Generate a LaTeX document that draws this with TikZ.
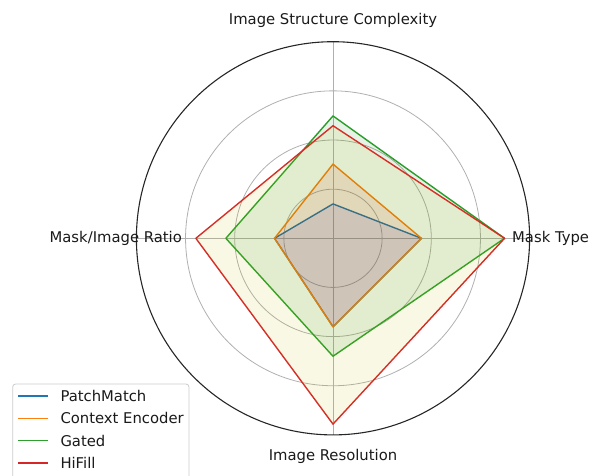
\documentclass[tikz,border=0pt]{standalone}
\usepackage{fontspec}
\setmainfont{DejaVu Sans}
\usetikzlibrary{calc}
\definecolor{tabblue}{HTML}{1F77B4}
\definecolor{taborange}{HTML}{FF7F0E}
\definecolor{tabgreen}{HTML}{2CA02C}
\definecolor{tabred}{HTML}{D62728}
\definecolor{mplgrid}{HTML}{B0B0B0}
\definecolor{fillb}{rgb}{0,0,1}
\definecolor{fillr}{rgb}{1,0,0}
\definecolor{fillg}{rgb}{0,0.5,0}
\definecolor{filly}{rgb}{0.75,0.75,0}
\definecolor{legframe}{HTML}{CCCCCC}
\definecolor{labeltext}{HTML}{1A1A1A}
\tikzset{
  gridring/.style={draw=mplgrid, line width=0.8pt},
  spoke/.style={draw=mplgrid, line width=0.8pt},
  frame/.style={draw=black!85, line width=1.1pt},
  series/.style={line width=1.4pt, line join=round},
  area/.style={fill opacity=0.1},
  axislabel/.style={font=\fontsize{14.8}{17}\selectfont, text=labeltext, inner sep=0pt},
  legtext/.style={font=\fontsize{14.8}{17}\selectfont, text=labeltext, anchor=west, inner sep=0pt},
}
\begin{document}
\begin{tikzpicture}[x=1pt,y=1pt]
  \useasboundingbox (0,-475) rectangle (590,0);
  \clip (0,-475) rectangle (590,0);
  \def\u{49.15}
  \coordinate (c) at (333,-238.3);

  % grid rings and spokes
  \foreach \k in {1,2,3} \draw[gridring] (c) circle ({\k*\u});
  \foreach \a in {0,90,180,270} \draw[spoke] (c) -- ++(\a:{4*\u});

  % axis values: top, right, bottom, left
  \foreach \name/\t/\r/\b/\l in {pm/0.70/1.80/1.80/1.19, ce/1.51/1.80/1.80/1.19,
                                  gt/2.49/3.49/2.40/2.18, hf/2.29/3.49/3.78/2.79}{
    \coordinate (\name-t) at ($(c)+(90:{\t*\u})$);
    \coordinate (\name-r) at ($(c)+(0:{\r*\u})$);
    \coordinate (\name-b) at ($(c)+(270:{\b*\u})$);
    \coordinate (\name-l) at ($(c)+(180:{\l*\u})$);
  }

  % series: outline, then translucent area
  \draw[series, tabblue] (pm-t) -- (pm-r) -- (pm-b) -- (pm-l) -- cycle;
  \fill[area, fillb] (pm-t) -- (pm-r) -- (pm-b) -- (pm-l) -- cycle;
  \draw[series, taborange] (ce-t) -- (ce-r) -- (ce-b) -- (ce-l) -- cycle;
  \fill[area, fillr] (ce-t) -- (ce-r) -- (ce-b) -- (ce-l) -- cycle;
  \draw[series, tabgreen] (gt-t) -- (gt-r) -- (gt-b) -- (gt-l) -- cycle;
  \fill[area, fillg] (gt-t) -- (gt-r) -- (gt-b) -- (gt-l) -- cycle;
  \draw[series, tabred] (hf-t) -- (hf-r) -- (hf-b) -- (hf-l) -- cycle;
  \fill[area, filly] (hf-t) -- (hf-r) -- (hf-b) -- (hf-l) -- cycle;

  % outer frame
  \draw[frame] (c) circle ({4*\u});

  % axis labels
  \node[axislabel] (lab-top) at (333,-20) {Image Structure Complexity};
  \node[axislabel, anchor=west] (lab-right) at (512,-238.3) {Mask Type};
  \node[axislabel] (lab-bottom) at (333,-456) {Image Resolution};
  \node[axislabel, anchor=east] (lab-left) at (182,-238.3) {Mask/Image Ratio};

  % legend
  \draw[legframe, fill=white, fill opacity=0.8, draw opacity=1, rounded corners=3pt, line width=0.8pt]
    (12.7,-384) rectangle (189,-490);
  \foreach \i/\col/\txt in {0/tabblue/PatchMatch, 1/taborange/Context Encoder,
                            2/tabgreen/Gated, 3/tabred/HiFill}{
    \coordinate (leg\i) at (18.3,{-396-22.3*\i});
    \draw[series, \col] (leg\i) -- ++(30,0);
    \node[legtext] (legtxt\i) at ($(leg\i)+(42,0)$) {\txt};
  }
\end{tikzpicture}
\end{document}
